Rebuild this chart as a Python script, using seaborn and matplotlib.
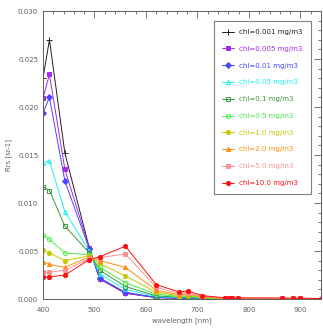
import matplotlib
matplotlib.use("Agg")
import matplotlib.pyplot as plt
import seaborn as sns
import pandas as pd
from matplotlib.ticker import MultipleLocator

sns.set_style("white")
plt.rcParams['font.family'] = ['DejaVu Sans']

# OLCI-like band centres [nm]
wavelength = [400, 412.5, 442.5, 490, 510, 560, 620, 665, 681.25, 708.75,
              753.75, 761.25, 764.375, 767.5, 778.75, 865, 885, 900, 940]

labels = ["chl=0.001 mg/m3", "chl=0.005 mg/m3", "chl=0.01 mg/m3", "chl=0.05 mg/m3",
          "chl=0.1 mg/m3", "chl=0.5 mg/m3", "chl=1.0 mg/m3", "chl=2.0 mg/m3",
          "chl=5.0 mg/m3", "chl=10.0 mg/m3"]

# Rrs values, in 1e-3 sr-1
rrs_0001 = [23.0, 27.0, 15.2, 5.3, 2.1, 0.6, 0.15, 0.08, 0.08, 0.04, 0.01, 0.01, 0.01, 0.01, 0.01, 0.0, 0.0, 0.0, 0.0]
rrs_0005 = [20.9, 23.4, 13.5, 5.3, 2.1, 0.6, 0.15, 0.08, 0.08, 0.04, 0.01, 0.01, 0.01, 0.01, 0.01, 0.0, 0.0, 0.0, 0.0]
rrs_001 = [19.4, 21.0, 12.3, 5.2, 2.2, 0.7, 0.17, 0.09, 0.09, 0.04, 0.01, 0.01, 0.01, 0.01, 0.01, 0.0, 0.0, 0.0, 0.0]
rrs_005 = [14.2, 14.4, 9.1, 5.0, 2.6, 1.0, 0.25, 0.13, 0.14, 0.06, 0.02, 0.02, 0.02, 0.02, 0.02, 0.01, 0.01, 0.01, 0.0]
rrs_01 = [11.7, 11.3, 7.6, 4.8, 3.0, 1.3, 0.33, 0.18, 0.2, 0.08, 0.03, 0.03, 0.03, 0.03, 0.03, 0.01, 0.01, 0.01, 0.0]
rrs_05 = [6.7, 6.2, 4.8, 4.6, 3.3, 1.7, 0.5, 0.26, 0.3, 0.12, 0.04, 0.04, 0.04, 0.04, 0.04, 0.02, 0.02, 0.02, 0.01]
rrs_10 = [5.1, 4.8, 4.0, 4.5, 3.7, 2.4, 0.7, 0.35, 0.42, 0.16, 0.05, 0.05, 0.05, 0.05, 0.05, 0.03, 0.03, 0.03, 0.01]
rrs_20 = [3.9, 3.6, 3.3, 4.4, 4.0, 3.3, 0.9, 0.45, 0.52, 0.2, 0.07, 0.06, 0.06, 0.06, 0.07, 0.04, 0.04, 0.04, 0.02]
rrs_50 = [2.8, 2.8, 3.0, 4.2, 4.3, 4.7, 1.2, 0.58, 0.66, 0.27, 0.09, 0.08, 0.08, 0.08, 0.09, 0.07, 0.06, 0.07, 0.03]
rrs_100 = [2.3, 2.3, 2.5, 4.1, 4.4, 5.5, 1.5, 0.72, 0.85, 0.36, 0.12, 0.1, 0.1, 0.1, 0.12, 0.1, 0.09, 0.1, 0.04]

series = [rrs_0001, rrs_0005, rrs_001, rrs_005, rrs_01, rrs_05, rrs_10, rrs_20, rrs_50, rrs_100]
colors = ["#202020", "#a828f0", "#4848ff", "#20f0f0", "#3a9a3a",
          "#44ee44", "#c8c800", "#ff8c10", "#ff9090", "#ff1010"]
markers = ["+", "s", "D", "^", "s", "o", "o", "^", "s", "o"]
filled = [True, True, True, False, False, False, True, True, True, True]

fig = plt.figure(figsize=(3.23, 3.29), dpi=100)
ax = fig.add_axes([43 / 323, 1 - 299 / 329, 278 / 323, 288 / 329])

for vals, lab, col, mk, fl in zip(series, labels, colors, markers, filled):
    df = pd.DataFrame({"wavelength": wavelength, "rrs": [v / 1000 for v in vals]})
    sns.lineplot(data=df, x="wavelength", y="rrs", ax=ax, color=col, label=lab,
                 marker=mk, markersize=3 if mk != "+" else 5,
                 markerfacecolor=col if fl else "none", markeredgecolor=col,
                 markeredgewidth=0.7, linewidth=0.7)

ax.set_xlim(400, 940)
ax.set_ylim(0, 0.030)
ax.xaxis.set_major_locator(MultipleLocator(100))
ax.xaxis.set_minor_locator(MultipleLocator(20))
ax.yaxis.set_major_locator(MultipleLocator(0.005))
ax.yaxis.set_minor_locator(MultipleLocator(0.001))
ax.yaxis.set_major_formatter(plt.FormatStrFormatter("%.3f"))

gray = "#606060"
ax.tick_params(which="both", direction="in", top=True, right=True, color=gray,
               labelsize=5, labelcolor=gray, width=0.6)
ax.tick_params(which="major", length=5)
ax.tick_params(which="minor", length=2.5)
ax.tick_params(axis="x", which="major", pad=6)
for s in ax.spines.values():
    s.set_color(gray)
    s.set_linewidth(0.7)

ax.set_xlabel("wavelength [nm]", fontsize=5, color=gray, labelpad=3)
ax.set_ylabel("Rrs [sr-1]", fontsize=5, color=gray, labelpad=4)

leg = ax.legend(loc="upper right", bbox_to_anchor=(0.964, 0.966), fontsize=5,
                handlelength=1.6, handletextpad=0.8, labelspacing=1.55,
                borderpad=1.2, fancybox=False, frameon=True, borderaxespad=0)
leg.get_frame().set_edgecolor(gray)
leg.get_frame().set_linewidth(0.8)
for txt, col in zip(leg.get_texts(), colors):
    txt.set_color(col)

fig.savefig("out.png", dpi=100)
